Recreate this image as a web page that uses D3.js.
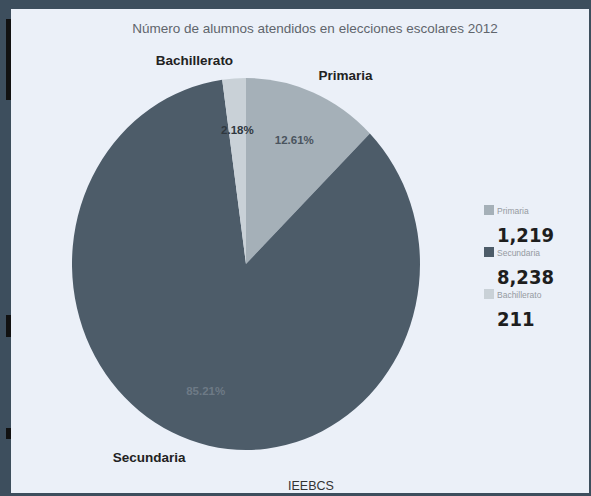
<!DOCTYPE html>
<html><head><meta charset="utf-8">
<script src="https://cdn.jsdelivr.net/npm/d3@7"></script>
<style>html,body{margin:0;padding:0;background:#3d4e5d;overflow:hidden}</style>
</head><body>
<svg id="chart" width="591" height="496"></svg>
<script>
const categories = ["Primaria", "Secundaria", "Bachillerato"];
const values = [1219, 8238, 211];
const valueLabels = ["1,219", "8,238", "211"];
const colors = ["#a5b0b8", "#4d5c69", "#c9d1d7"];
const title = "Número de alumnos atendidos en elecciones escolares 2012";
const source = "IEEBCS";

const svg = d3.select("#chart");
svg.append("rect").attr("x",0).attr("y",0).attr("width",591).attr("height",496).attr("fill","#3d4e5d");
svg.append("rect").attr("x",11).attr("y",9).attr("width",578).attr("height",484).attr("fill","#ebf0f8");
// scanning artifacts on left edge
[[19,81],[315,22],[428,11]].forEach(([y,h])=>svg.append("rect").attr("x",6).attr("y",y).attr("width",5).attr("height",h).attr("fill","#111"));

svg.append("text").attr("x",315).attr("y",33).attr("text-anchor","middle")
  .attr("font-family","Liberation Sans, Arial, sans-serif").attr("font-size",13.5)
  .attr("fill","#60656c").text(title);

const cx = 246, cy = 264, rx = 174, ry = 186;
const sx = rx / ry;
const total = d3.sum(values);
const pie = d3.pie().sort(null).value(d => d)(values);
const arc = d3.arc().innerRadius(0).outerRadius(ry);
const g = svg.append("g").attr("transform", `translate(${cx},${cy}) scale(${sx},1)`);
g.selectAll("path").data(pie).join("path").attr("d", arc).attr("fill", (d,i) => colors[i]);

const pctArc = d3.arc().innerRadius(ry*0.72).outerRadius(ry*0.72);
const pctColors = ["#4a545e", "#6d7a86", "#2f373e"];
svg.selectAll("text.pct").data(pie).join("text").attr("class","pct")
  .attr("x", d => cx + pctArc.centroid(d)[0]*sx)
  .attr("y", d => cy + pctArc.centroid(d)[1])
  .attr("text-anchor","middle").attr("dominant-baseline","central")
  .attr("font-family","Liberation Sans, Arial, sans-serif").attr("font-size",11.5).attr("font-weight","bold")
  .attr("fill",(d,i)=>pctColors[i])
  .text(d => (d.value/total*100).toFixed(2) + "%");

const outArc = d3.arc().innerRadius(ry*1.08).outerRadius(ry*1.08);
svg.selectAll("text.cat").data(pie).join("text").attr("class","cat")
  .attr("x", d => cx + outArc.centroid(d)[0]*sx)
  .attr("y", d => cy + outArc.centroid(d)[1] + (outArc.centroid(d)[1] < 0 ? -3 : 3))
  .attr("text-anchor", d => outArc.centroid(d)[0] < 0 ? "end" : "start")
  .attr("dominant-baseline","central")
  .attr("font-family","Liberation Sans, Arial, sans-serif").attr("font-size",13.5).attr("font-weight","bold")
  .attr("fill","#222").text((d,i) => categories[i]);

// legend
const ly = d3.scaleBand().domain(categories).range([204, 330]);
const lg = svg.selectAll("g.leg").data(categories).join("g").attr("class","leg")
  .attr("transform", d => `translate(484,${ly(d)})`);
lg.append("rect").attr("x",0).attr("y",1).attr("width",10).attr("height",10).attr("fill",(d,i)=>colors[i]);
lg.append("text").attr("x",13).attr("y",10).attr("font-family","Liberation Sans, Arial, sans-serif")
  .attr("font-size",8.5).attr("fill","#959aa1").text(d=>d);
lg.append("text").attr("x",13).attr("y",38).attr("font-family","DejaVu Sans Condensed, DejaVu Sans, sans-serif")
  .attr("font-weight","bold").attr("font-size",20).attr("fill","#1e1e1e").text((d,i)=>valueLabels[i]);

svg.append("text").attr("x",311).attr("y",490).attr("text-anchor","middle")
  .attr("font-family","Liberation Sans, Arial, sans-serif").attr("font-size",12.5)
  .attr("fill","#333").text(source);
</script>
</body></html>
